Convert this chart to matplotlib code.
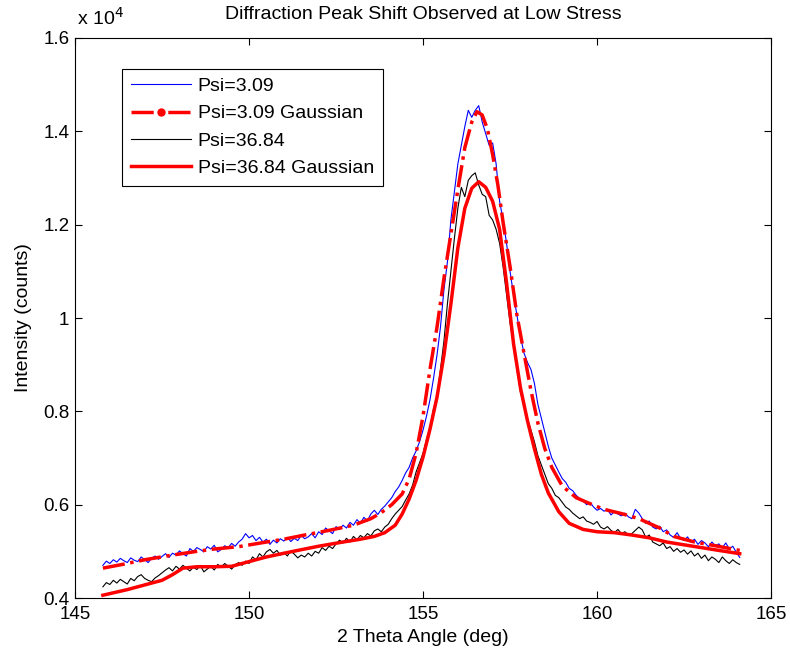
# pic de diffraction : deux angles psi + ajustements gaussiens
import numpy as np
import matplotlib
matplotlib.use('Agg')
import matplotlib.pyplot as plt
from matplotlib.lines import Line2D
from matplotlib.ticker import FuncFormatter

plt.rcParams['font.family'] = ['Liberation Sans', 'DejaVu Sans']

# mesures brutes, pas régulier de 0.1 deg de 145.8 à 164.1
theta_start, theta_stop = 145.8, 164.1

psi_309 = [
    4700, 4790, 4740, 4820, 4770, 4850, 4800, 4760, 4860, 4810,
    4780, 4880, 4820, 4760, 4850, 4900, 4830, 4890, 4950, 4870,
    4960, 4920, 5010, 4950, 4900, 5060, 5000, 5080, 5040, 4990,
    5100, 5050, 5130, 4990, 5040, 5120, 5080, 5170, 5110, 5200,
    5260, 5380, 5290, 5340, 5230, 5300, 5200, 5260, 5150, 5240,
    5180, 5270, 5220, 5300, 5210, 5280, 5230, 5340, 5270, 5310,
    5380, 5290, 5420, 5360, 5500, 5440, 5380, 5530, 5470, 5560,
    5500, 5620, 5560, 5680, 5600, 5730, 5650, 5800, 5880, 5790,
    5900, 5970, 6060, 6150, 6280, 6380, 6520, 6680, 6800, 7000,
    7150, 7350, 7600, 7900, 8250, 8700, 9200, 9800, 10600, 11200,
    12100, 12700, 13300, 13700, 14100, 14450, 14300, 14450, 14550, 14200,
    13950, 13700, 13750, 13300, 12500, 12100, 11600, 11000, 10500, 10050,
    9600, 9250, 9050, 8900, 8600, 8150, 7850, 7550, 7250, 7000,
    6850, 6700, 6560, 6480, 6350, 6300, 6200, 6130, 6080, 6000,
    6050, 5950, 5880, 5920, 5860, 5900, 5780, 5850, 5800, 5760,
    5820, 5740, 5700, 5900, 5820, 5700, 5600, 5650, 5520, 5480,
    5540, 5420, 5460, 5350, 5300, 5400, 5280, 5230, 5310, 5200,
    5260, 5150, 5230, 5180, 5100, 5200, 5120, 5160, 5080, 5180,
    5050, 5110, 4980, 4870,
]

psi_3684 = [
    4240, 4330, 4290, 4380, 4320, 4400, 4350, 4300, 4420, 4370,
    4460, 4500, 4420, 4380, 4350, 4430, 4480, 4540, 4600, 4650,
    4580, 4680, 4620, 4700, 4640, 4580, 4660, 4610, 4700, 4560,
    4620, 4680, 4600, 4720, 4660, 4740, 4680, 4620, 4710, 4760,
    4700, 4790, 4740, 4880, 4820, 4950, 4880, 4990, 5040, 4960,
    5020, 4920, 4980, 4900, 5010, 4940, 4860, 4920, 4880, 4960,
    4900, 5000, 4960, 5080, 5020, 5110, 5060, 5160, 5240, 5180,
    5280, 5200, 5320, 5250, 5340, 5290, 5380, 5330, 5440, 5480,
    5420, 5520, 5580, 5700, 5800, 5880, 5960, 6100, 6230, 6420,
    6700, 6900, 7100, 7400, 7650, 8050, 8300, 8900, 9500, 10300,
    11000, 11700, 12350, 12800, 12600, 12950, 13050, 13110, 12850, 12650,
    12600, 12200, 12100, 11900, 11600, 11100, 10500, 9900, 9400, 8900,
    8400, 8150, 7850, 7600, 7350, 7050, 6850, 6650, 6450, 6350,
    6200, 6150, 6050, 5950, 5900, 5820, 5760, 5700, 5740, 5650,
    5620, 5580, 5640, 5520, 5480, 5530, 5450, 5400, 5470, 5380,
    5420, 5350, 5380, 5450, 5520, 5460, 5300, 5350, 5200, 5160,
    5120, 5180, 5060, 5100, 5000, 5060, 4980, 5030, 4940, 5010,
    4900, 4960, 4850, 4920, 4800, 4880, 4830, 4760, 4880, 4800,
    4740, 4820, 4760, 4720,
]

# courbes gaussiennes
gauss_309_x = [145.8, 146.5, 147.0, 147.8, 148.5, 149.0, 149.7, 150.5, 151.0, 151.6,
               152.3, 153.0, 153.5, 153.8, 154.1, 154.4, 154.6, 154.8, 155.0, 155.2,
               155.4, 155.6, 155.8, 156.0, 156.2, 156.4, 156.55, 156.7, 156.85, 157.0,
               157.15, 157.3, 157.5, 157.7, 157.9, 158.1, 158.3, 158.5, 158.7, 159.0,
               159.4, 159.8, 160.2, 160.7, 161.2, 161.8, 162.2, 162.8, 163.4, 164.1]
gauss_309_y = [4640, 4740, 4820, 4920, 5000, 5050, 5100, 5200, 5260, 5350,
               5450, 5560, 5700, 5830, 6000, 6230, 6550, 7100, 7900, 8900,
               9800, 10850, 11800, 12750, 13650, 14200, 14420, 14350, 14050, 13500,
               12850, 12050, 11100, 10050, 9250, 8450, 7750, 7200, 6800, 6400,
               6150, 6020, 5900, 5810, 5700, 5500, 5320, 5200, 5120, 5020]

gauss_3684_x = [145.8, 146.5, 147.0, 147.5, 147.8, 148.1, 148.5, 149.0, 149.5, 150.0,
                150.5, 151.2, 152.0, 152.7, 153.2, 153.6, 153.9, 154.2, 154.4, 154.6,
                154.8, 155.0, 155.2, 155.4, 155.6, 155.8, 156.0, 156.2, 156.4, 156.6,
                156.8, 157.0, 157.2, 157.4, 157.6, 157.8, 158.0, 158.2, 158.4, 158.6,
                158.9, 159.2, 159.6, 160.0, 160.5, 161.0, 161.5, 162.0, 162.5, 163.0,
                163.5, 164.1]
gauss_3684_y = [4060, 4180, 4280, 4380, 4500, 4640, 4670, 4670, 4680, 4780,
                4880, 4990, 5110, 5200, 5260, 5320, 5400, 5560, 5800, 6120,
                6520, 7020, 7620, 8300, 9200, 10300, 11500, 12350, 12780, 12920,
                12800, 12500, 11900, 10750, 9450, 8500, 7800, 7200, 6650, 6250,
                5850, 5600, 5470, 5420, 5400, 5350, 5290, 5200, 5140, 5080,
                5020, 4950]

theta = np.linspace(theta_start, theta_stop, len(psi_309))

fig = plt.figure(figsize=(7.9, 6.55), dpi=100)
ax = fig.add_axes([0.095, 0.087, 0.881, 0.855])

ax.plot(theta, psi_309, color='#0000ff', lw=0.8)
ax.plot(gauss_309_x, gauss_309_y, color='red', lw=2.5, ls='-.')
ax.plot(theta, psi_3684, color='black', lw=0.8)
ax.plot(gauss_3684_x, gauss_3684_y, color='red', lw=2.5)

ax.set_xlim(145, 165)
ax.set_ylim(4000, 16000)
ax.set_xticks([145, 150, 155, 160, 165])
ax.set_yticks(np.arange(4000, 16001, 2000))
ax.yaxis.set_major_formatter(FuncFormatter(lambda v, p: f"{v/1e4:g}"))
ax.tick_params(direction='in', top=True, right=True, length=5, labelsize=13.5)
ax.tick_params(axis='x', pad=6)
ax.tick_params(axis='y', pad=4)
for s in ax.spines.values():
    s.set_linewidth(0.8)

ax.text(0.003, 1.016, r'x 10$^{4}$', transform=ax.transAxes, fontsize=14,
        ha='left', va='bottom')
ax.set_title('Diffraction Peak Shift Observed at Low Stress', fontsize=14, pad=14)
ax.set_xlabel('2 Theta Angle (deg)', fontsize=14, labelpad=4)
ax.set_ylabel('Intensity (counts)', fontsize=14, labelpad=8)

handles = [
    Line2D([], [], color='#0000ff', lw=0.8),
    Line2D([], [], color='red', lw=2.5, ls='-.', marker='o', markersize=5),
    Line2D([], [], color='black', lw=0.8),
    Line2D([], [], color='red', lw=2.5),
]
labels = ['Psi=3.09', 'Psi=3.09 Gaussian', 'Psi=36.84', 'Psi=36.84 Gaussian']
leg = ax.legend(handles, labels, loc='upper left', bbox_to_anchor=(0.0675, 0.945),
                borderaxespad=0, fontsize=14, fancybox=False, framealpha=1,
                edgecolor='black', handlelength=3.1, handletextpad=0.35,
                labelspacing=0.5, borderpad=0.45)
leg.get_frame().set_linewidth(0.8)

plt.savefig('out.png', dpi=100)
plt.close()
